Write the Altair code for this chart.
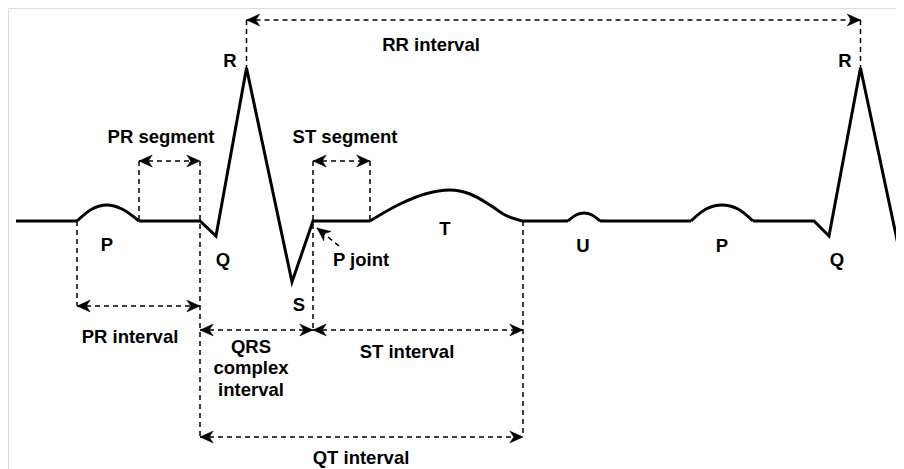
import altair as alt
import pandas as pd

# ---------------- data (screen-like units: x to the right, y downward) -------------
# straight parts of the ECG trace
line_seg = ["a", "a", "b", "b", "b", "b", "b", "b", "b", "c", "c", "d", "d",
            "e", "e", "e", "e", "e"]
line_x = [16, 77, 139, 200, 216, 246.5, 292, 313, 370, 522, 568, 600, 691,
          753, 814, 829, 860.5, 906]
line_y = [221, 221, 221, 221, 236, 68, 282, 221, 221, 221, 221, 221, 221,
          221, 221, 236, 68, 282]

# rounded waves (P, T, U, P)
wave_seg = ["P1"] * 5 + ["T"] * 8 + ["U"] * 5 + ["P2"] * 5
wave_x = [77, 92, 107, 122, 139,
          370, 400, 425, 450, 470, 490, 505, 522,
          568, 576, 584, 592, 600,
          691, 706, 722, 738, 753]
wave_y = [221, 209, 205, 209, 221,
          221, 204, 194, 190, 194, 205, 215, 221,
          221, 215, 213, 215, 221,
          221, 209, 205, 209, 221]

# dashed vertical guides
guide_x = [77, 139, 200, 313, 370, 523, 246.5, 860.5]
guide_y1 = [221, 161, 161, 161, 161, 221, 20, 20]
guide_y2 = [306, 221, 437, 330, 221, 437, 68, 68]

# double-headed interval arrows
int_x1 = [139, 313, 77, 200, 313, 200, 246.5]
int_x2 = [200, 370, 200, 313, 523, 523, 860.5]
int_y = [161, 161, 306, 330, 330, 437, 20]

# "P joint" pointer
pj_x = [339, 317]
pj_y = [246, 228]

# labels
label_text = ["RR interval", "R", "R", "PR segment", "ST segment", "P", "Q", "S",
              "T", "U", "P", "Q", "P joint", "PR interval", "QRS", "complex",
              "interval", "ST interval", "QT interval"]
label_x = [431, 230, 845, 161, 345, 107, 223, 299, 445, 583, 722, 837, 361,
           130, 251, 251, 251, 407, 361]
label_y = [45, 61, 61, 137, 137, 245, 260, 305, 229, 246, 246, 260, 260,
           337, 347, 368, 390, 352, 458]

# ---------------- tables ----------------
lines = pd.DataFrame({"seg": line_seg, "x": line_x, "y": line_y})
lines["o"] = range(len(lines))
waves = pd.DataFrame({"seg": wave_seg, "x": wave_x, "y": wave_y})
waves["o"] = range(len(waves))
guides = pd.DataFrame({"x": guide_x, "y1": guide_y1, "y2": guide_y2})
intervals = pd.DataFrame({"x1": int_x1, "x2": int_x2, "y": int_y})
heads = pd.DataFrame({
    "x": int_x1 + int_x2 + [pj_x[1]],
    "y": int_y + int_y + [pj_y[1]],
    "ang": [180] * len(int_x1) + [0] * len(int_x2) + [218],
})
pj = pd.DataFrame({"x": [pj_x[0]], "y": [pj_y[0]], "x2": [pj_x[1]], "y2": [pj_y[1]]})
labels = pd.DataFrame({"t": label_text, "x": label_x, "y": label_y})

W, H = 888, 461
xs = alt.Scale(domain=[8, 8 + W], nice=False, zero=False)
ys = alt.Scale(domain=[8, 8 + H], nice=False, zero=False, reverse=True)
X = lambda f: alt.X(f, type="quantitative", scale=xs, axis=None)
Y = lambda f: alt.Y(f, type="quantitative", scale=ys, axis=None)

dash = [5, 4]
col = "#000000"

trace = alt.Chart(lines).mark_line(
    color=col, strokeWidth=3, strokeJoin="miter", strokeCap="butt", clip=True
).encode(x=X("x"), y=Y("y"), detail="seg:N", order="o:Q")

wave = alt.Chart(waves).mark_line(
    color=col, strokeWidth=3, interpolate="monotone", strokeCap="butt", clip=True
).encode(x=X("x"), y=Y("y"), detail="seg:N", order="o:Q")

vg = alt.Chart(guides).mark_rule(color=col, strokeWidth=1.5, strokeDash=dash).encode(
    x=X("x"), y=Y("y1"), y2="y2"
)
hz = alt.Chart(intervals).mark_rule(color=col, strokeWidth=1.5, strokeDash=dash).encode(
    x=X("x1"), x2="x2", y=Y("y")
)
pjl = alt.Chart(pj).mark_rule(color=col, strokeWidth=1.5, strokeDash=dash).encode(
    x=X("x"), x2="x2", y=Y("y"), y2="y2"
)
arrow_path = "M0,0 L-1,-0.45 L-0.7,0 L-1,0.45 Z"
ah = alt.Chart(heads).mark_point(
    shape=arrow_path, filled=True, fill=col, stroke=col, strokeWidth=0.5,
    opacity=1, size=700
).encode(x=X("x"), y=Y("y"), angle=alt.Angle("ang:Q", scale=None))

txt = alt.Chart(labels).mark_text(
    font="Liberation Sans", fontWeight="bold", fontSize=18.5, color=col,
    align="center", baseline="middle"
).encode(x=X("x"), y=Y("y"), text="t:N")

chart = alt.layer(vg, hz, pjl, trace, wave, ah, txt).properties(
    width=W, height=H, padding=0, autosize=alt.AutoSizeParams(type="none")
).configure_view(stroke=None).configure(background="white")

chart.save("out.html", embed_options={"renderer": "svg", "actions": False})
